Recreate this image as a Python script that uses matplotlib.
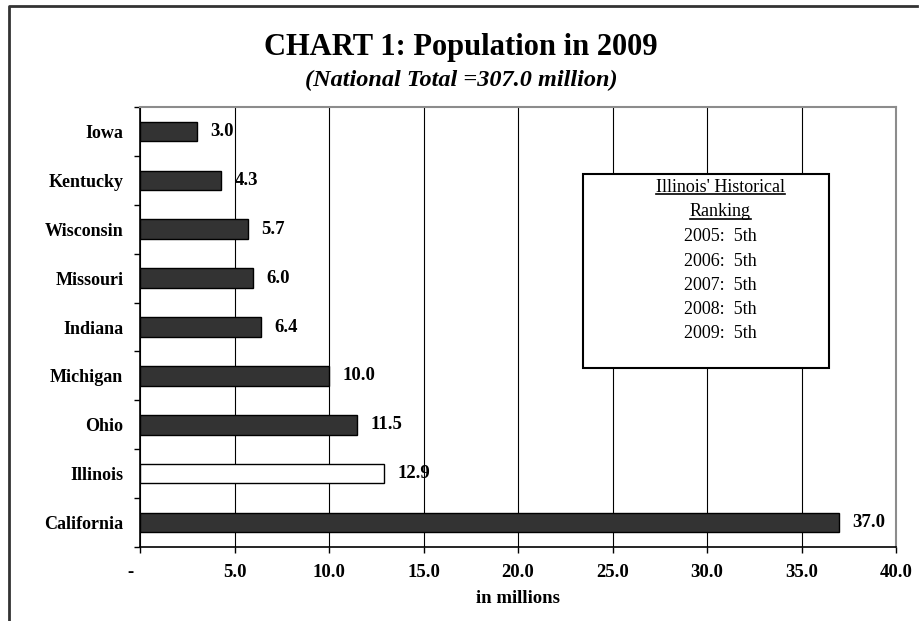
import matplotlib
matplotlib.use("Agg")
import matplotlib.pyplot as plt
import matplotlib.transforms as mtransforms
from matplotlib.patches import Rectangle
from matplotlib.lines import Line2D

# Data
states = ["Iowa", "Kentucky", "Wisconsin", "Missouri", "Indiana",
          "Michigan", "Ohio", "Illinois", "California"]
population = [3.0, 4.3, 5.7, 6.0, 6.4, 10.0, 11.5, 12.9, 37.0]
highlight = "Illinois"
x_ticks = [0, 5, 10, 15, 20, 25, 30, 35, 40]
x_tick_labels = ["-", "5.0", "10.0", "15.0", "20.0", "25.0", "30.0", "35.0", "40.0"]
title = "CHART 1: Population in 2009"
subtitle = "(National Total =307.0 million)"
x_label = "in millions"
box_heading = ["Illinois' Historical", "Ranking"]
rank_years = [2005, 2006, 2007, 2008, 2009]
rank_values = ["5th", "5th", "5th", "5th", "5th"]

W, H = 922, 621
SERIF = "Liberation Serif"

fig = plt.figure(figsize=(W / 100, H / 100), dpi=100)
fig.patch.set_facecolor("white")


def fx(x):
    return x / W


def fy(y):
    return 1 - y / H


ax = fig.add_axes([fx(140), fy(547), fx(896) - fx(140), fy(107) - fy(547)])

ypos = list(range(len(states)))
colors = ["white" if s == highlight else "#333333" for s in states]
bars = ax.barh(ypos, population, height=0.4, color=colors,
               edgecolor="black", linewidth=1.0, zorder=3)

for y, v in zip(ypos, population):
    ax.annotate(f"{v:.1f}", xy=(v, y), xytext=(9.5, 0), textcoords="offset points",
                ha="left", va="center", fontsize=13.5, fontweight="bold",
                family=SERIF, zorder=4)

ax.set_xlim(0, 40)
ax.set_ylim(len(states) - 0.5, -0.5)

ax.set_xticks(x_ticks)
ax.set_xticklabels(x_tick_labels, fontsize=13.5, fontweight="bold", family=SERIF)
ax.tick_params(axis="x", direction="out", length=4, width=1, pad=8.5, color="black")
ax.get_xticklabels()[0].set_transform(
    ax.get_xticklabels()[0].get_transform()
    + mtransforms.ScaledTranslation(-10 / 100, 0, fig.dpi_scale_trans))

ax.set_yticks(ypos)
ax.set_yticklabels(states, fontsize=13, fontweight="bold", family=SERIF)
ax.tick_params(axis="y", which="major", length=0, pad=12)
ax.set_yticks([i - 0.5 for i in range(len(states) + 1)], minor=True)
ax.tick_params(axis="y", which="minor", direction="out", length=4, width=1, color="black")

ax.grid(axis="x", color="black", linewidth=0.8, zorder=0)
ax.set_axisbelow(True)

for side in ("left", "bottom"):
    ax.spines[side].set_color("black")
    ax.spines[side].set_linewidth(1.2)
for side in ("top", "right"):
    ax.spines[side].set_color("#8c8c8c")
    ax.spines[side].set_linewidth(1.5)

ax.set_xlabel(x_label, fontsize=13.5, fontweight="bold", family=SERIF, labelpad=6)

# Titles
fig.text(fx(461), fy(47), title, ha="center", va="center",
         fontsize=22, fontweight="bold", family=SERIF)
fig.text(fx(461), fy(80), subtitle, ha="center", va="center",
         fontsize=17.5, fontweight="bold", style="italic", family=SERIF)

# Outer chart frame (left and top edges)
fig.add_artist(Line2D([fx(9), fx(9), fx(917)], [fy(621), fy(6), fy(6)],
                      transform=fig.transFigure, color="#333333", linewidth=2))

# Ranking box
fig.add_artist(Rectangle((fx(583), fy(368)), fx(829) - fx(583), fy(174) - fy(368),
                         transform=fig.transFigure, facecolor="white",
                         edgecolor="black", linewidth=1.5, zorder=5))

box_lines = box_heading + [f"{yr}:  {rk}" for yr, rk in zip(rank_years, rank_values)]
line_y = [188, 212, 237, 261, 285, 309, 333]
texts = []
for txt, y in zip(box_lines, line_y):
    t = fig.text(fx(720), fy(y), txt, ha="center", va="center", fontsize=13,
                 family=SERIF, zorder=6)
    texts.append(t)

fig.canvas.draw()
renderer = fig.canvas.get_renderer()
for t in texts[:len(box_heading)]:
    bb = t.get_window_extent(renderer)
    yline = bb.y0 + 2
    fig.add_artist(Line2D([bb.x0 / W, bb.x1 / W], [yline / H, yline / H],
                          transform=fig.transFigure, color="black",
                          linewidth=1.2, zorder=6))

fig.savefig("out.png", dpi=100, facecolor="white")
